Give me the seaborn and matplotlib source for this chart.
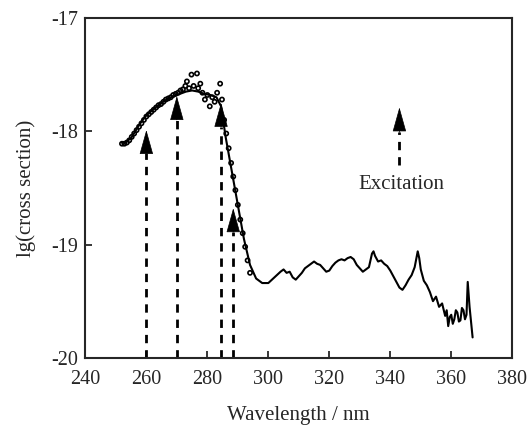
import numpy as np
import pandas as pd
import seaborn as sns
import matplotlib.pyplot as plt

sns.set_style('ticks')
plt.rcParams['font.family'] = ['Liberation Serif', 'DejaVu Serif']
plt.rcParams['axes.unicode_minus'] = False

# measured cross section (solid line)
line_nm = [252, 253, 255, 258, 260, 263, 266, 269, 271, 273,
           275, 277, 279, 281, 283, 284.5, 286, 288, 290, 292,
           294, 296, 298, 300, 302, 304, 305, 306, 307, 308,
           309, 310, 311, 312, 313, 314, 315, 316, 317, 318,
           319, 320, 321, 322, 323, 324, 325, 326, 327, 328,
           329, 330, 331, 332, 333, 334, 334.5, 335, 336, 337,
           338, 339, 340, 341, 342, 343, 344, 345, 346, 347,
           348, 349, 349.5, 350, 351, 352, 353, 354, 355, 356,
           357, 358, 358.5, 359, 359.5, 360, 360.5, 361, 361.5, 362,
           362.5, 363, 363.5, 364, 364.5, 365, 365.4, 366, 367]
line_val = [-18.10, -18.10, -18.06, -17.93, -17.86, -17.79, -17.73, -17.69, -17.67, -17.65,
            -17.64, -17.65, -17.67, -17.68, -17.70, -17.78, -18.05, -18.35, -18.65, -18.95,
            -19.18, -19.30, -19.34, -19.34, -19.29, -19.24, -19.22, -19.25, -19.24, -19.29,
            -19.31, -19.28, -19.25, -19.21, -19.19, -19.17, -19.15, -19.17, -19.18, -19.21,
            -19.24, -19.23, -19.19, -19.16, -19.14, -19.13, -19.14, -19.12, -19.11, -19.13,
            -19.18, -19.21, -19.24, -19.22, -19.20, -19.08, -19.06, -19.10, -19.15, -19.14,
            -19.17, -19.19, -19.23, -19.28, -19.33, -19.38, -19.40, -19.36, -19.31, -19.27,
            -19.20, -19.06, -19.12, -19.22, -19.32, -19.36, -19.42, -19.50, -19.46, -19.55,
            -19.52, -19.63, -19.58, -19.72, -19.64, -19.62, -19.70, -19.66, -19.58, -19.60,
            -19.68, -19.67, -19.56, -19.58, -19.66, -19.62, -19.33, -19.55, -19.82]

# calculated cross section (open circles)
dots_nm = [252.0, 252.8, 253.6, 254.4, 255.2, 256.0, 256.8, 257.6, 258.4, 259.2, 260.0,
           260.8, 261.6, 262.4, 263.2, 264.0, 264.8, 265.6, 266.4, 267.2, 268.0, 268.8,
           269.6, 270.4, 271.2, 272.0, 272.8, 273.3, 274.0, 274.8, 275.5, 276.6, 277.0,
           277.7, 278.4, 279.2, 280.0, 280.8, 281.6, 282.4, 283.2, 284.2, 284.8, 285.5,
           286.2, 287.0, 287.8, 288.5, 289.2, 290.0, 290.8, 291.6, 292.4, 293.2, 294.0]
dots_val = [-18.11, -18.11, -18.10, -18.08, -18.05, -18.02, -17.99, -17.96, -17.93, -17.90,
            -17.87, -17.85, -17.83, -17.81, -17.79, -17.77, -17.76, -17.74, -17.72, -17.71,
            -17.70, -17.68, -17.67, -17.66, -17.64, -17.63, -17.60, -17.56, -17.62, -17.50,
            -17.60, -17.49, -17.62, -17.58, -17.66, -17.72, -17.68, -17.78, -17.70, -17.74,
            -17.66, -17.58, -17.72, -17.90, -18.02, -18.15, -18.28, -18.40, -18.52, -18.65,
            -18.78, -18.90, -19.02, -19.14, -19.25]

# excitation wavelengths: x, arrow tip, arrow base
exc_nm = [260, 270, 284.5, 288.5]
exc_tip = [-17.99, -17.69, -17.75, -18.68]
exc_base = [-18.19, -17.90, -17.96, -18.89]

line_df = pd.DataFrame({'nm': line_nm, 'val': line_val})
dots_df = pd.DataFrame({'nm': dots_nm, 'val': dots_val})

fig = plt.figure(figsize=(5.27, 4.28), dpi=100)
ax = fig.add_axes([0.162, 0.164, 0.81, 0.794])

sns.lineplot(data=line_df, x='nm', y='val', sort=False, estimator=None,
             color='black', lw=1.5, ax=ax)
sns.scatterplot(data=dots_df, x='nm', y='val', marker='o', s=9,
                facecolor='none', edgecolor='black', linewidth=1.2, ax=ax, zorder=3)

def up_arrow(x, tip, base, bottom):
    ax.plot([x, x], [bottom, base], color='black', lw=2, ls=(0, (3, 2.5)))
    ax.annotate('', xy=(x, tip), xytext=(x, base),
                arrowprops=dict(arrowstyle='-|>,head_length=1.0,head_width=0.28',
                                color='black', lw=0.5, shrinkA=0, shrinkB=0,
                                mutation_scale=16))

for x, t, b in zip(exc_nm, exc_tip, exc_base):
    up_arrow(x, t, b, -20)

# legend arrow
up_arrow(343, -17.79, -18.01, -18.30)
ax.text(343.5, -18.47, 'Excitation', ha='center', va='center', fontsize=15)

ax.set_xlim(240, 380)
ax.set_ylim(-20, -17)
ax.set_xticks(range(240, 381, 20))
ax.set_yticks([-20, -19, -18, -17])
ax.tick_params(direction='in', length=5, width=1.3, labelsize=14.5, pad=5)
ax.tick_params(axis='x', pad=9)
for s in ax.spines.values():
    s.set_linewidth(1.5)
    s.set_visible(True)
ax.set_xlabel('Wavelength / nm', fontsize=15, labelpad=12)
ax.set_ylabel('lg(cross section)', fontsize=15, labelpad=11)

fig.savefig('out.png', dpi=100)
